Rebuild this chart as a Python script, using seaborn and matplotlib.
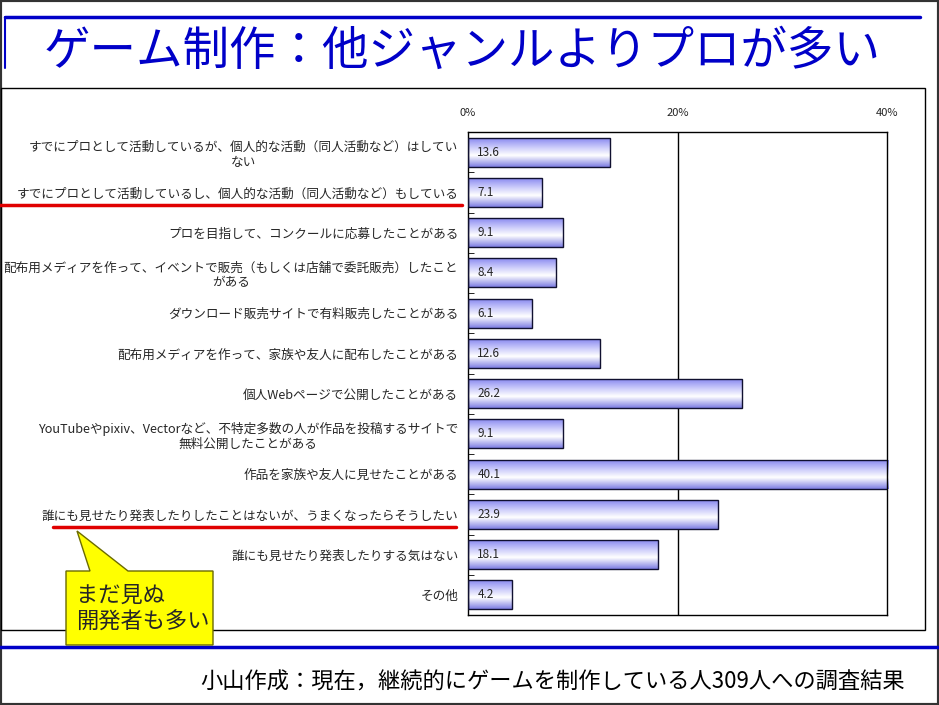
import numpy as np
import pandas as pd
import matplotlib
matplotlib.use("Agg")
import matplotlib.pyplot as plt
import seaborn as sns
from matplotlib.colors import LinearSegmentedColormap
from matplotlib.patches import Rectangle, Polygon
from matplotlib.lines import Line2D

# data (percent of 309 respondents)
labels = [
    "すでにプロとして活動しているが、個人的な活動（同人活動など）はしてい\nない",
    "すでにプロとして活動しているし、個人的な活動（同人活動など）もしている",
    "プロを目指して、コンクールに応募したことがある",
    "配布用メディアを作って、イベントで販売（もしくは店舗で委託販売）したこと\nがある",
    "ダウンロード販売サイトで有料販売したことがある",
    "配布用メディアを作って、家族や友人に配布したことがある",
    "個人Webページで公開したことがある",
    "YouTubeやpixiv、Vectorなど、不特定多数の人が作品を投稿するサイトで\n無料公開したことがある",
    "作品を家族や友人に見せたことがある",
    "誰にも見せたり発表したりしたことはないが、うまくなったらそうしたい",
    "誰にも見せたり発表したりする気はない",
    "その他",
]
values = [13.6, 7.1, 9.1, 8.4, 6.1, 12.6, 26.2, 9.1, 40.1, 23.9, 18.1, 4.2]
xticks = [0, 20, 40]
xtick_labels = ["0%", "20%", "40%"]

title = "ゲーム制作：他ジャンルよりプロが多い"
footer = "小山作成：現在，継続的にゲームを制作している人309人への調査結果"
callout = "まだ見ぬ\n開発者も多い"

df = pd.DataFrame({"label": labels, "value": values})

sns.set_style("white")
plt.rcParams["font.family"] = ["Noto Sans CJK JP", "DejaVu Sans"]

W, H = 939, 705
fig = plt.figure(figsize=(W / 100, H / 100), dpi=100)
ax = fig.add_axes([468 / W, 1 - 615 / H, (887 - 468) / W, (615 - 132) / H])


def px(x, y):
    # pixel position -> figure fraction
    return x / W, 1 - y / H


sns.barplot(data=df, x="value", y="label", orient="h", color="#b0b0f0",
            edgecolor="#101030", linewidth=1, width=0.72, ax=ax)

# gradient fill like the original office chart
grad = LinearSegmentedColormap.from_list(
    "bar", [(0, "#8a8af0"), (0.3, "#c8c8fa"), (0.6, "#ffffff"), (1.0, "#7e7ee2")])
gy = np.linspace(0, 1, 100).reshape(-1, 1)
for p in ax.patches:
    x0, y0 = p.get_x(), p.get_y()
    w, h = p.get_width(), p.get_height()
    im = ax.imshow(gy, cmap=grad, aspect="auto", origin="upper",
                   extent=(x0, x0 + w, y0 + h, y0), zorder=2)
    im.set_clip_path(p)
    p.set_facecolor("none")
    p.set_zorder(3)

for i, v in enumerate(values):
    ax.text(0.9, i, f"{v}", va="center", ha="left", fontsize=8.5, zorder=4)

ax.set_xlim(0, 40)
ax.set_ylim(11.5, -0.5)
ax.axvline(20, color="black", lw=1, zorder=1)
ax.set_xticks(xticks)
ax.set_xticklabels(xtick_labels, fontsize=8)
ax.xaxis.tick_top()
ax.tick_params(axis="x", length=0, pad=10)
ax.set_yticks(range(len(labels)))
ax.set_yticklabels(labels, fontsize=9.1, multialignment="center")
ax.set_yticks(np.arange(-0.5, len(labels), 1), minor=True)
ax.tick_params(axis="y", which="major", length=0, pad=7)
ax.tick_params(axis="y", which="minor", direction="in", length=4, left=True, color="black")
ax.set_xlabel("")
ax.set_ylabel("")
for s in ax.spines.values():
    s.set_visible(True)
    s.set_color("black")
    s.set_linewidth(1)

# slide decorations
fig.add_artist(Rectangle((0, 0), 1, 1, transform=fig.transFigure, fill=False,
                         edgecolor="#333333", lw=3))
fx0, fy0 = px(1, 630)
fx1, fy1 = px(925, 88)
fig.add_artist(Rectangle((fx0, fy0), fx1 - fx0, fy1 - fy0, transform=fig.transFigure,
                         fill=False, edgecolor="black", lw=1))
blue = "#0000c8"
fig.add_artist(Line2D([px(5, 17)[0], px(920, 17)[0]], [px(5, 17)[1]] * 2, color=blue, lw=2.5))
fig.add_artist(Line2D([px(5, 17)[0]] * 2, [px(5, 17)[1], px(5, 68)[1]], color=blue, lw=1.5))
fig.add_artist(Line2D([0, 1], [px(0, 647)[1]] * 2, color=blue, lw=2.5))

fig.text(*px(44, 52), title, color=blue, fontsize=33.5, ha="left", va="center")
fig.text(*px(905, 682), footer, color="black", fontsize=16, ha="right", va="center")

# red underlines
fig.add_artist(Line2D([0, px(462, 0)[0]], [px(0, 205)[1]] * 2, color="#e00000", lw=2.5))
fig.add_artist(Line2D([px(53, 0)[0], px(456, 0)[0]], [px(0, 527)[1]] * 2, color="#e00000", lw=2.5))

# callout
pts = [px(66, 571), px(90, 571), px(77, 531), px(128, 571), px(213, 571),
       px(213, 645), px(66, 645)]
fig.add_artist(Polygon(pts, closed=True, transform=fig.transFigure, facecolor="#ffff00",
                       edgecolor="#6b6b00", lw=1, zorder=10))
fig.text(*px(76, 609), callout, fontsize=16, ha="left", va="center", linespacing=1.2,
         zorder=11)

fig.savefig("out.png", dpi=100)
